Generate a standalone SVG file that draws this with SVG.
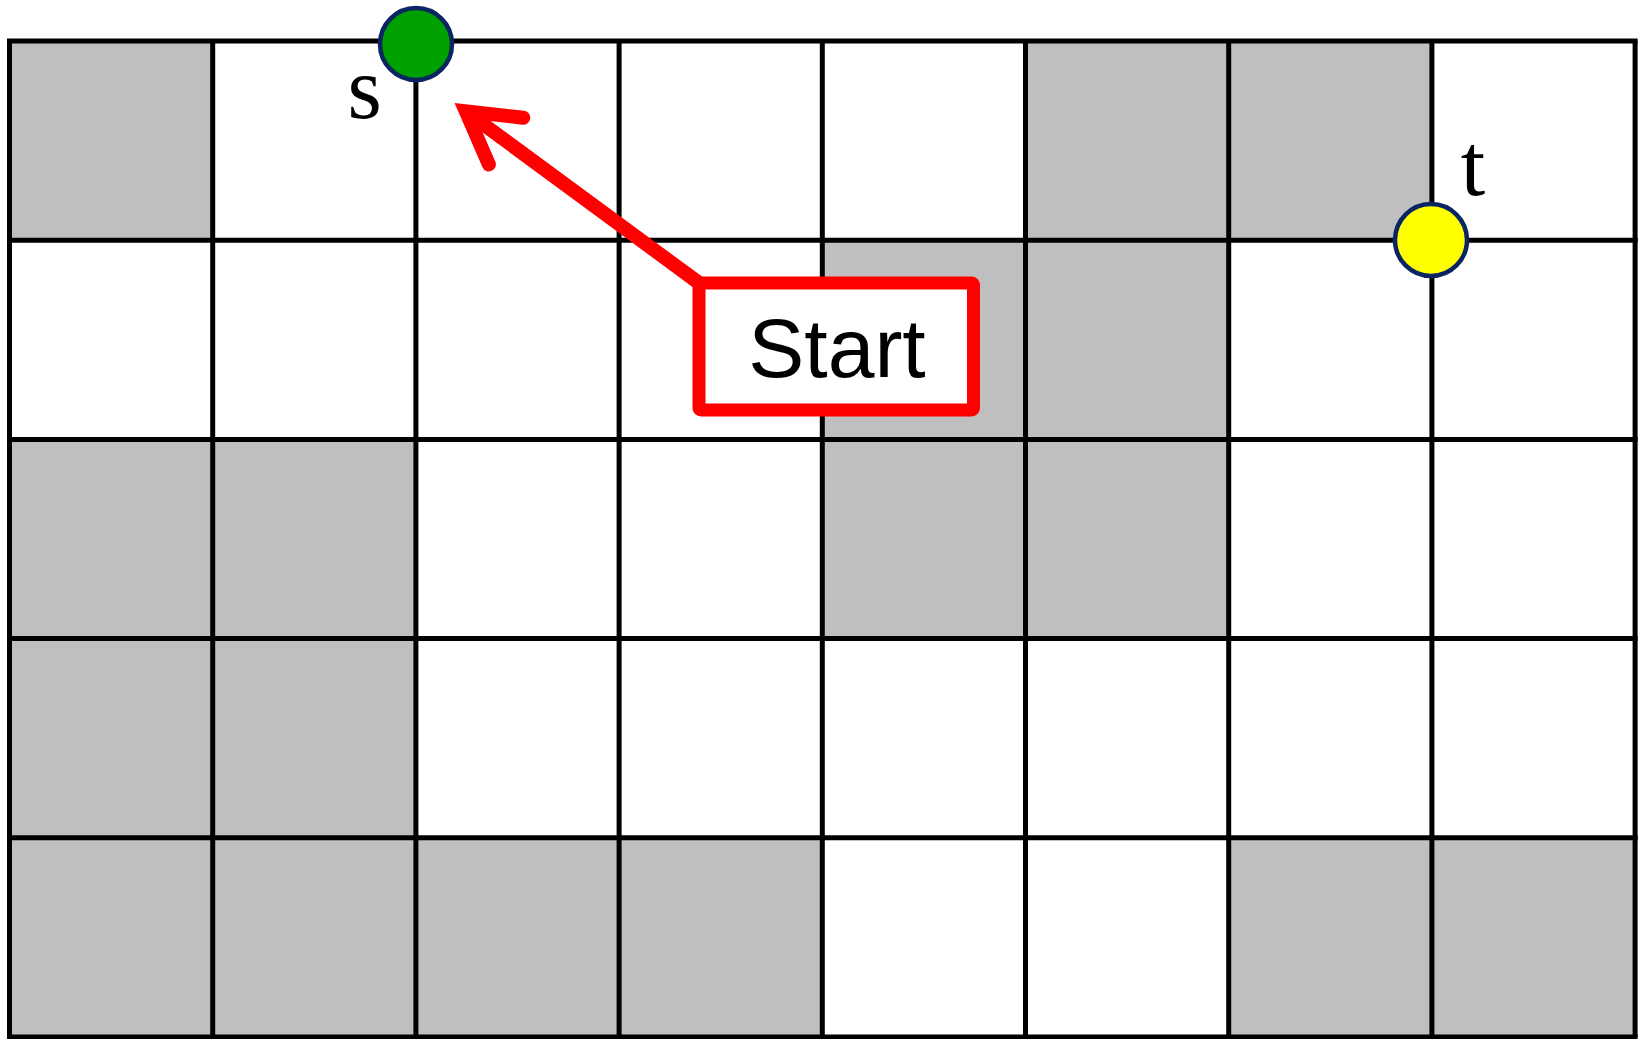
<svg xmlns="http://www.w3.org/2000/svg" width="1638" height="1039" viewBox="0 0 1638 1039">
<style>
.cell{fill:#bfbfbf;stroke:none}
.grid{stroke:#000;stroke-width:5;fill:none}
.pt{stroke:#0b2462;stroke-width:4.5}
.lbl{font-family:"Liberation Serif",serif;font-size:88px;fill:#000;text-anchor:middle}
.box{fill:#fff;stroke:#ff0000;stroke-width:13;stroke-linejoin:round}
.boxtxt{font-family:"Liberation Sans",Arial,sans-serif;font-size:84px;fill:#000;text-anchor:middle}
.conn{stroke:#ff0000;stroke-width:14;fill:none}
</style>
<defs>
<marker id="arr" markerUnits="userSpaceOnUse" orient="auto" refX="0" refY="0" markerWidth="10" markerHeight="10" overflow="visible">
<path d="M-51,-29 L-1,0 L-51,29" fill="none" stroke="#ff0000" stroke-width="14" stroke-linejoin="miter" stroke-linecap="round"/>
</marker>
</defs>
<rect width="1638" height="1039" fill="#fff"/>
<g id="cells">
<rect class="cell" x="9.5" y="41" width="203.2" height="199.2"/>
<rect class="cell" x="1025.5" y="41" width="203.2" height="199.2"/>
<rect class="cell" x="1228.7" y="41" width="203.2" height="199.2"/>
<rect class="cell" x="822.3" y="240.2" width="203.2" height="199.2"/>
<rect class="cell" x="1025.5" y="240.2" width="203.2" height="199.2"/>
<rect class="cell" x="9.5" y="439.4" width="203.2" height="199.2"/>
<rect class="cell" x="212.7" y="439.4" width="203.2" height="199.2"/>
<rect class="cell" x="822.3" y="439.4" width="203.2" height="199.2"/>
<rect class="cell" x="1025.5" y="439.4" width="203.2" height="199.2"/>
<rect class="cell" x="9.5" y="638.6" width="203.2" height="199.2"/>
<rect class="cell" x="212.7" y="638.6" width="203.2" height="199.2"/>
<rect class="cell" x="9.5" y="837.8" width="203.2" height="199.2"/>
<rect class="cell" x="212.7" y="837.8" width="203.2" height="199.2"/>
<rect class="cell" x="415.9" y="837.8" width="203.2" height="199.2"/>
<rect class="cell" x="619.1" y="837.8" width="203.2" height="199.2"/>
<rect class="cell" x="1228.7" y="837.8" width="203.2" height="199.2"/>
<rect class="cell" x="1431.9" y="837.8" width="203.2" height="199.2"/>
</g>
<g id="grid" class="grid">
<path d="M9.5,41V1037M212.7,41V1037M415.9,41V1037M619.1,41V1037M822.3,41V1037M1025.5,41V1037M1228.7,41V1037M1431.9,41V1037M1635.1,41V1037"/>
<path d="M7,41H1637.6M7,240.2H1637.6M7,439.4H1637.6M7,638.6H1637.6M7,837.8H1637.6M7,1037H1637.6"/>
</g>
<g id="connectors">
<path class="conn" d="M699,283 L465,110.8" marker-end="url(#arr)"/>
</g>
<g id="node-s">
<circle class="pt" cx="416" cy="44" r="36" fill="#00a000"/>
<text class="lbl" x="364.5" y="118">s</text>
</g>
<g id="node-t">
<circle class="pt" cx="1431" cy="240" r="36" fill="#ffff00"/>
<text class="lbl" x="1473" y="195">t</text>
</g>
<g id="node-start">
<rect class="box" x="699" y="283" width="274.5" height="127" rx="2"/>
<text class="boxtxt" x="837" y="377">Start</text>
</g>
</svg>
